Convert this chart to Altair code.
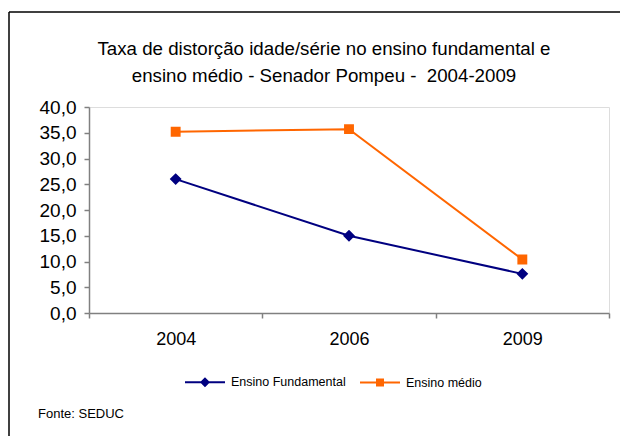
import altair as alt
import pandas as pd

anos = ["2004", "2006", "2009"]
series = ["Ensino Fundamental", "Ensino médio"]
fundamental = [26.0, 15.0, 7.6]
medio = [35.2, 35.7, 10.4]
cores = ["#000080", "#FF6600"]
y_ticks = [0, 5, 10, 15, 20, 25, 30, 35, 40]
titulo = ["Taxa de distorção idade/série no ensino fundamental e",
          "ensino médio - Senador Pompeu - \u00a02004-2009"]
fonte = "Fonte: SEDUC"

rows = []
for s, vals in zip(series, [fundamental, medio]):
    for a, v in zip(anos, vals):
        rows.append({"ano": a, "serie": s, "valor": v})
df = pd.DataFrame(rows)

FONT = "Liberation Sans"

# shapes: horizontal line segment + marker (segment only shows where stroked, i.e. in the legend)
shape_paths = [
    "M-1,0H1M0,-0.18L0.18,0L0,0.18L-0.18,0Z",
    "M-1,0H1M-0.15,-0.15H0.15V0.15H-0.15Z",
]

x_enc = alt.X("ano:N", sort=anos, scale=alt.Scale(paddingInner=0, paddingOuter=0),
              axis=alt.Axis(title=None, labelAngle=0, tickBand="extent", tickSize=5,
                            labelFontSize=18, labelPadding=12, labelFont=FONT,
                            labelColor="#000000",
                            domainColor="#808080", tickColor="#808080",
                            domainWidth=1.5, tickWidth=1.5, grid=False))
y_enc = alt.Y("valor:Q", scale=alt.Scale(domain=[0, 40], nice=False),
              axis=alt.Axis(title=None, values=y_ticks, tickSize=5, labelFontSize=19,
                            labelFont=FONT, labelColor="#000000", labelPadding=8,
                            labelExpr="replace(format(datum.value, '.1f'), '.', ',')",
                            domainColor="#808080", tickColor="#808080",
                            domainWidth=1.5, tickWidth=1.5, grid=False))

color_scale = alt.Scale(domain=series, range=cores)
shape_scale = alt.Scale(domain=series, range=shape_paths)

base = alt.Chart(df)

lines = base.mark_line(strokeWidth=2).encode(
    x=x_enc, y=y_enc,
    color=alt.Color("serie:N", scale=color_scale, legend=None),
)

markers = base.mark_point(filled=True, size=4356, opacity=1).encode(
    x=x_enc, y=y_enc,
    color=alt.Color("serie:N", scale=color_scale, legend=None),
    shape=alt.Shape("serie:N", scale=shape_scale, legend=None),
)

leg = alt.Legend(title=None, orient="none", legendX=95, legendY=254, direction="horizontal",
                 symbolSize=1600, symbolStrokeWidth=2, symbolOpacity=1,
                 labelFontSize=12.5, labelFont=FONT, labelColor="#000000",
                 labelOffset=5, columnPadding=10)

legend_layer = base.mark_point(filled=True, size=0, strokeWidth=2, opacity=1).encode(
    x=x_enc, y=y_enc,
    color=alt.Color("serie:N", scale=color_scale, legend=leg),
    stroke=alt.Stroke("serie:N", scale=color_scale, legend=leg),
    shape=alt.Shape("serie:N", scale=shape_scale, legend=leg),
)

one = pd.DataFrame({"k": [0]})
border_top = alt.Chart(one).mark_rule(color="#000000", strokeWidth=1.5).encode(
    x=alt.value(-80), x2=alt.value(531), y=alt.value(-95)
)
border_left = alt.Chart(one).mark_rule(color="#000000", strokeWidth=1.5).encode(
    x=alt.value(-80), y=alt.value(-95), y2=alt.value(400)
)
title_text = alt.Chart(one).mark_text(align="center", baseline="middle", fontSize=18.7,
                                      lineHeight=27, font=FONT, color="#000000").encode(
    x=alt.value(235), y=alt.value(-58), text=alt.value(titulo)
)
footnote = alt.Chart(one).mark_text(align="left", baseline="middle", fontSize=13,
                                    font=FONT, color="#000000").encode(
    x=alt.value(-51), y=alt.value(307), text=alt.value(fonte)
)

chart = alt.layer(border_top, border_left, title_text, legend_layer, lines, markers,
                  footnote).resolve_legend(
    color="independent", shape="independent", stroke="independent"
).properties(
    width=520, height=206,
    padding={"left": 81, "top": 99, "right": 13, "bottom": 123},
    autosize=alt.AutoSizeParams(type="none"),
).configure_view(stroke=None).configure(background="white")

chart.save("out.html", embed_options={"renderer": "svg", "actions": False})
